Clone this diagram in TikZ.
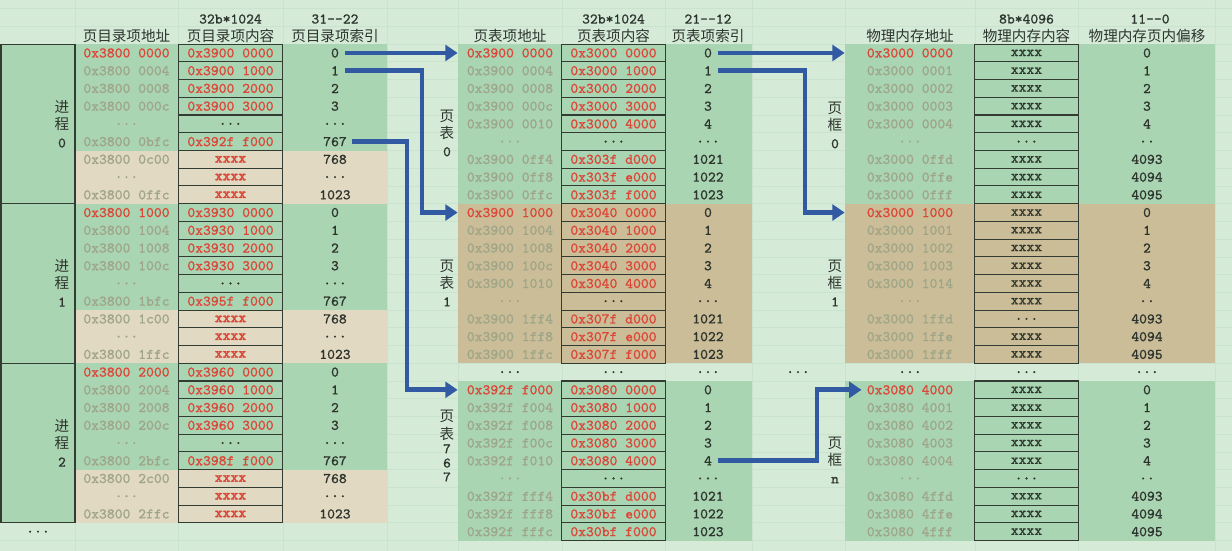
\documentclass[tikz,border=0pt]{standalone}
\usepackage{fontspec}
\setmonofont{Latin Modern Mono}[FakeBold=0.5,BoldFont={Latin Modern Mono},BoldFeatures={FakeBold=2.5}]
\newfontfamily\cjk{Noto Sans CJK SC}
\usetikzlibrary{arrows.meta}
\definecolor{sheet}{RGB}{213,235,216}
\definecolor{gridline}{RGB}{202,227,206}
\definecolor{used}{RGB}{170,213,179}
\definecolor{unused}{RGB}{226,217,194}
\definecolor{tan}{RGB}{203,189,151}
\definecolor{hexred}{RGB}{220,70,55}
\definecolor{addrgray}{RGB}{158,165,136}
\definecolor{ink}{RGB}{45,52,45}
\definecolor{boxline}{RGB}{50,60,50}
\definecolor{arrowblue}{RGB}{50,90,162}
\newcommand\gapdots{...}
\newcommand\twodots{..}

\begin{document}
\begin{tikzpicture}[x=0.02cm,y=-0.02cm,
    cell/.style={inner sep=0pt,minimum height=0.354cm,font=\fontsize{8.4}{9}\ttfamily},
    addr/.style={cell,text=addrgray,minimum width=#1},
    entry/.style={cell,draw=boxline,line width=0.6pt,text=hexred,minimum width=2.08cm},
    idx/.style={cell,text=ink,inner xsep=3pt},
    head/.style={font=\fontsize{8.3}{9}\cjk,text=ink,inner sep=0pt},
    bits/.style={font=\fontsize{8.4}{9}\ttfamily,text=ink,inner sep=0pt},
    side/.style={font=\fontsize{8.3}{10}\cjk,text=ink,align=center,inner sep=0pt},
    link/.style={draw=arrowblue,line width=2.8pt,-{Triangle[length=7pt,width=9pt]}}]
  \useasboundingbox (0,0) rectangle (1232,551);
  % sheet and faint grid
  \fill[sheet] (0,0) rectangle (1232,551);
  \foreach \x in {75,178,283,387,458,562,665,752,845,975,1078,1215}
    \draw[gridline] (\x,0) -- (\x,551);
  \foreach \k in {-2,...,28}
    \draw[gridline] (0,{44.1+17.73*\k}) -- (1232,{44.1+17.73*\k});

  % coloured bands
  \foreach \blk in {0,1,2}{
    \fill[used] (75,{44.1+159.57*\blk}) rectangle (387,{150.5+159.57*\blk});
    \fill[unused] (75,{150.5+159.57*\blk}) rectangle (387,{203.7+159.57*\blk});
    \draw[boxline,line width=0.6pt,fill=used] (1,{44.1+159.57*\blk}) rectangle (75,{203.7+159.57*\blk});
  }
  \foreach \xl/\xr in {458/752,845/1215}{
    \fill[used] (\xl,44.1) rectangle (\xr,203.7);
    \fill[tan] (\xl,203.7) rectangle (\xr,363.2);
    \fill[used] (\xl,381) rectangle (\xr,540.5);
  }

  % headers
  \node[head] (hda) at (126.5,36) {页目录项地址};
  \node[bits] (hdcb) at (230.5,19) {32b*1024};
  \node[head] (hdc) at (230.5,36) {页目录项内容};
  \node[bits] (hdib) at (335,19) {31-{}-22};
  \node[head] (hdi) at (335,36) {页目录项索引};
  \node[head] (hta) at (510,36) {页表项地址};
  \node[bits] (htcb) at (613.5,19) {32b*1024};
  \node[head] (htc) at (613.5,36) {页表项内容};
  \node[bits] (htib) at (708,19) {21-{}-12};
  \node[head] (hti) at (708,36) {页表项索引};
  \node[head] (hfa) at (910,36) {物理内存地址};
  \node[bits] (hfcb) at (1026.5,19) {8b*4096};
  \node[head] (hfc) at (1026.5,36) {物理内存内容};
  \node[bits] (hfob) at (1150,19) {11-{}-0};
  \node[head] (hfo) at (1147,36) {物理内存页内偏移};

  % page directories
  \foreach \blk/\hb/\he in {0/0/2,1/3/5,2/6/8}{
    \foreach \cola/\colb/\colc [count=\nr from 0] in {0x3800 \blk000/0x39\hb0 0000/0,
        0x3800 \blk004/0x39\hb0 1000/1, 0x3800 \blk008/0x39\hb0 2000/2,
        0x3800 \blk00c/0x39\hb0 3000/3, \gapdots/\textcolor{ink}{\gapdots}/\gapdots,
        0x3800 \blk bfc/0x39\he f f000/767, 0x3800 \blk c00/\textbf{xxxx}/768,
        \gapdots/\textbf{xxxx}/\gapdots, 0x3800 \blk ffc/\textbf{xxxx}/1023}{
      \pgfmathtruncatemacro\gr{9*\blk+\nr}
      \ifnum\nr=0 \def\ac{hexred}\else\def\ac{addrgray}\fi
      \node[addr=2.06cm,text=\ac] (da\gr) at (126.5,{52.97+17.73*\gr}) {\cola};
      \node[entry] (dc\gr) at (230.5,{52.97+17.73*\gr}) {\colb};
      \node[idx] (di\gr) at (335,{52.97+17.73*\gr}) {\colc};
    }
  }
  \node[cell,text=ink] (da27) at (38,{52.97+17.73*27}) {\gapdots};
  \node[side] (proc0) at (62,124) {进\\程\\{\ttfamily 0}};
  \node[side] (proc1) at (62,283) {进\\程\\{\ttfamily 1}};
  \node[side] (proc2) at (62,443) {进\\程\\{\ttfamily 2}};

  % page tables
  \foreach \off/\ad/\hb/\he in {0/0x3900 0/0x3000/0x303f,9/0x3900 1/0x3040/0x307f,19/0x392f f/0x3080/0x30bf}{
    \foreach \cola/\colb/\colc [count=\nr from 0] in {\ad000/\hb{} 0000/0,
        \ad004/\hb{} 1000/1, \ad008/\hb{} 2000/2, \ad00c/\hb{} 3000/3,
        \ad010/\hb{} 4000/4, \gapdots/\textcolor{ink}{\gapdots}/\gapdots,
        \ad ff4/\he{} d000/1021, \ad ff8/\he{} e000/1022, \ad ffc/\he{} f000/1023}{
      \pgfmathtruncatemacro\gr{\off+\nr}
      \ifnum\nr=0 \def\ac{hexred}\else\def\ac{addrgray}\fi
      \node[addr=2.08cm,text=\ac] (ta\gr) at (510,{52.97+17.73*\gr}) {\cola};
      \node[entry] (tc\gr) at (613.5,{52.97+17.73*\gr}) {\colb};
      \node[idx] (ti\gr) at (708,{52.97+17.73*\gr}) {\colc};
    }
  }
  \node[cell,text=ink] (ta18) at (510,{52.97+17.73*18}) {\gapdots};
  \node[cell,text=ink] (tc18) at (613.5,{52.97+17.73*18}) {\gapdots};
  \node[cell,text=ink] (ti18) at (708,{52.97+17.73*18}) {\gapdots};
  \node[cell,text=ink] (gap18) at (798,{52.97+17.73*18}) {\gapdots};
  \node[side] (pt0) at (447,133) {页\\表\\{\ttfamily 0}};
  \node[side] (pt1) at (447,283) {页\\表\\{\ttfamily 1}};
  \node[side] (pt767) at (447,446) {页\\表\\[-2pt]{\ttfamily 7}\\[-2pt]{\ttfamily 6}\\[-2pt]{\ttfamily 7}};

  % page frames
  \foreach \off/\ad/\rf/\cf/\cg in {0/0x3000 0/004/\gapdots/xxxx,9/0x3000 1/014/xxxx/\gapdots,19/0x3080 4/004/\gapdots/xxxx}{
    \foreach \cola/\colb/\colc [count=\nr from 0] in {\ad000/xxxx/0,
        \ad001/xxxx/1, \ad002/xxxx/2, \ad003/xxxx/3, \ad\rf/xxxx/4,
        \gapdots/\cf/\twodots, \ad ffd/\cg/4093, \ad ffe/xxxx/4094, \ad fff/xxxx/4095}{
      \pgfmathtruncatemacro\gr{\off+\nr}
      \ifnum\nr=0 \def\ac{hexred}\else\def\ac{addrgray}\fi
      \node[addr=2.6cm,text=\ac] (fa\gr) at (910,{52.97+17.73*\gr}) {\cola};
      \node[entry,text=ink] (fc\gr) at (1026.5,{52.97+17.73*\gr}) {\colb};
      \node[idx] (fo\gr) at (1147,{52.97+17.73*\gr}) {\colc};
    }
  }
  \node[cell,text=ink] (fa18) at (910,{52.97+17.73*18}) {\gapdots};
  \node[cell,text=ink] (fc18) at (1026.5,{52.97+17.73*18}) {\gapdots};
  \node[cell,text=ink] (fo18) at (1147,{52.97+17.73*18}) {\gapdots};
  \node[side] (pf0) at (835,125) {页\\框\\{\ttfamily 0}};
  \node[side] (pf1) at (835,283) {页\\框\\{\ttfamily 1}};
  \node[side] (pfn) at (835,460) {页\\框\\{\ttfamily n}};

  % links
  \coordinate (kneeA) at (422,0);
  \coordinate (kneeB) at (407,0);
  \coordinate (kneeC) at (805,0);
  \coordinate (kneeD) at (817,0);
  \draw[link] (di0.east) -- (ta0.west);
  \draw[link] (di1.east) -- (di1.east -| kneeA) |- (ta9.west);
  \draw[link] (di5.east) -- (di5.east -| kneeB) |- (ta19.west);
  \draw[link] (ti0.east) -- (fa0.west);
  \draw[link] (ti1.east) -- (ti1.east -| kneeC) |- (fa9.west);
  \draw[link] (ti23.east) -- (ti23.east -| kneeD) |- ([xshift=9.6pt]fa19.west);
\end{tikzpicture}
\end{document}
